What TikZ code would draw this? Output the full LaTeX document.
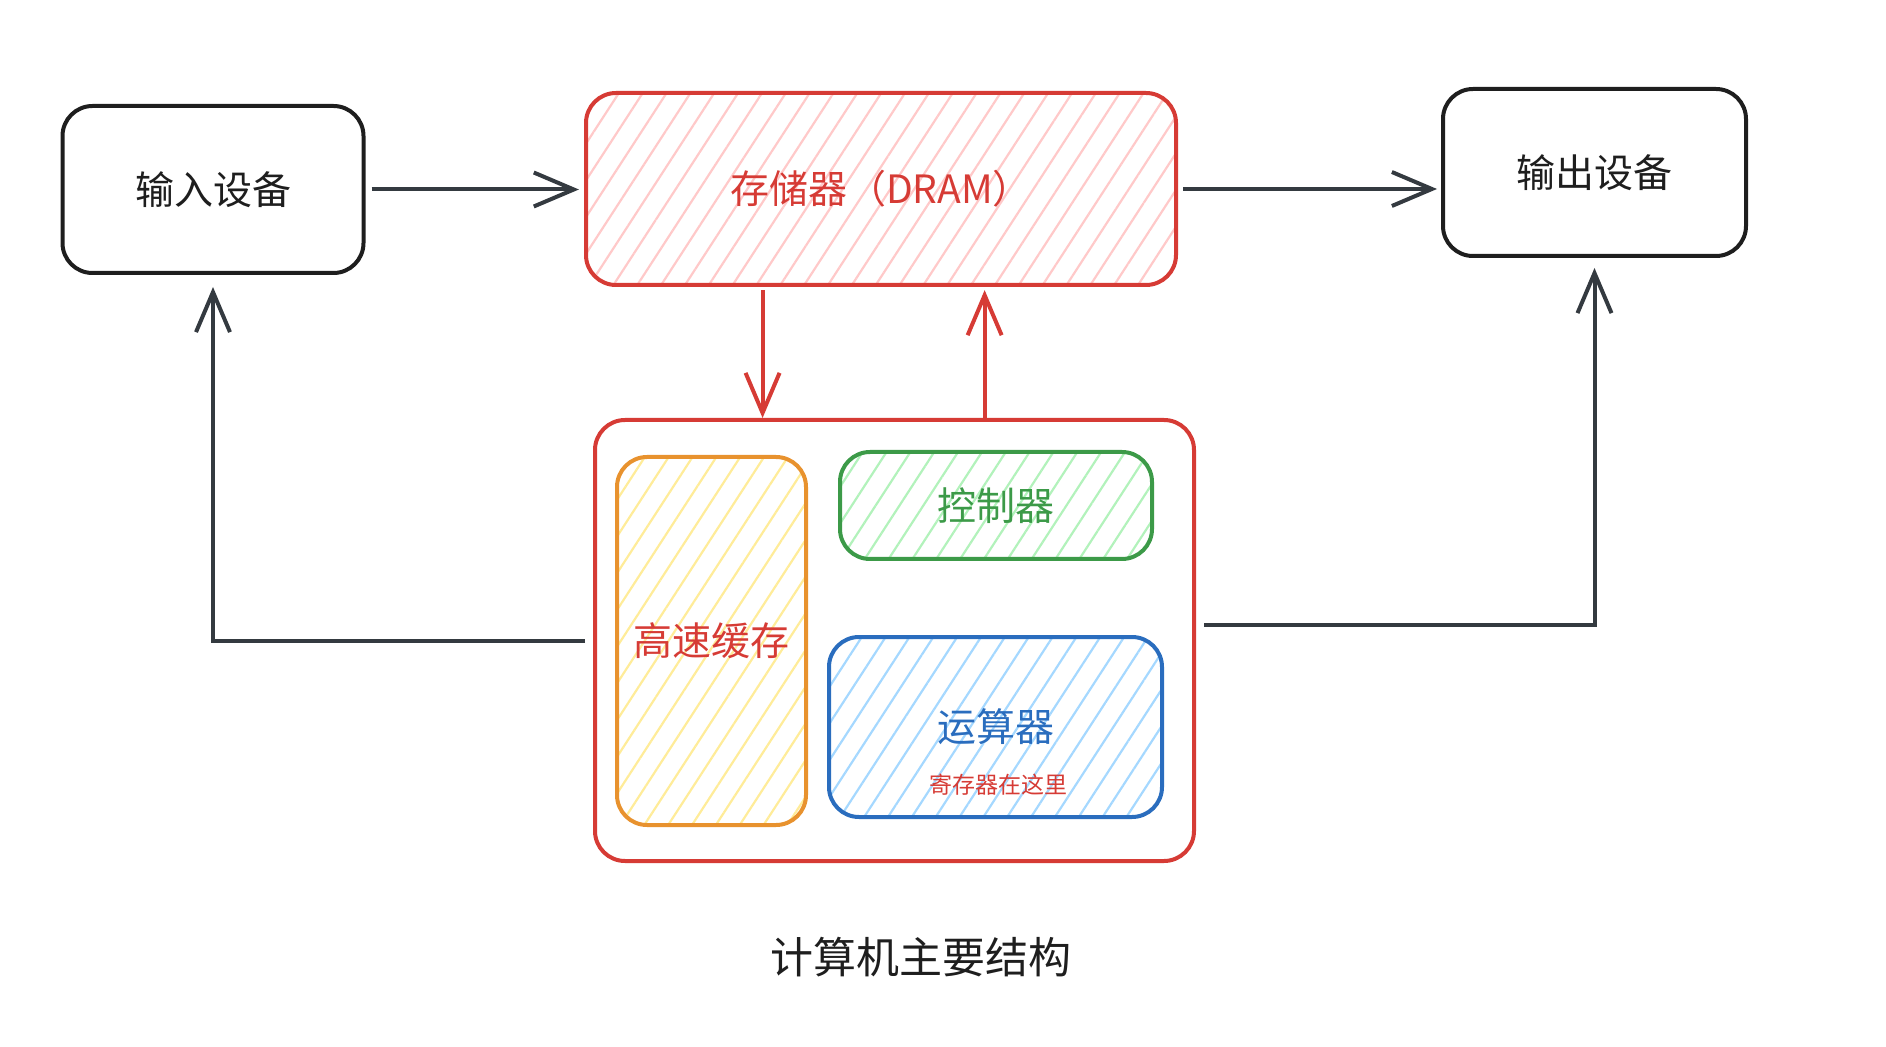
\documentclass[tikz,border=0pt]{standalone}
\usepackage{fontspec}
\setmainfont{Noto Sans CJK SC}
\usepackage{xcolor}
\usetikzlibrary{arrows.meta, positioning, calc, patterns.meta}

\definecolor{inkdark}{HTML}{1E1E1E}
\definecolor{arrowdark}{HTML}{343A40}
\definecolor{memred}{HTML}{D63B35}
\definecolor{memfill}{HTML}{FFC9C9}
\definecolor{cacheorange}{HTML}{E8922E}
\definecolor{cachefill}{HTML}{FFEC99}
\definecolor{ctrlgreen}{HTML}{3C9A48}
\definecolor{ctrlfill}{HTML}{B2F2BB}
\definecolor{alublue}{HTML}{2A6DBE}
\definecolor{alufill}{HTML}{A5D8FF}

\begin{document}
\begin{tikzpicture}[
    x=0.5pt, y=0.5pt,
    box/.style={
        rectangle,
        draw,
        line width=2pt,
        rounded corners=15pt,
        align=center,
        inner sep=0pt,
        font=\fontsize{19.5}{23}\selectfont
    },
    hatched/.style={
        pattern={Lines[angle=57, distance=10pt, line width=1.1pt]},
        pattern color=#1
    },
    arrow/.style={-{Straight Barb[length=20pt, width=17pt]}, line width=2pt, color=arrowdark},
    memarrow/.style={arrow, color=memred},
    node distance=0.35cm
]
\useasboundingbox (0,0) rectangle (1886,1046);

% top row
\node[box, draw=inkdark, text=inkdark, minimum width=150.5pt, minimum height=83.5pt] (input) at (213,856.5) {输入设备};
\node[box, draw=memred, text=memred, hatched=memfill, minimum width=295pt, minimum height=96pt] (dram) at (881,857) {存储器（DRAM）};
\node[box, draw=inkdark, text=inkdark, minimum width=151.5pt, minimum height=83.5pt] (output) at (1594.5,873.5) {输出设备};

% cpu
\node[box, draw=memred, minimum width=299.5pt, minimum height=220.5pt] (cpu) at (894.5,405.5) {};
\node[box, draw=cacheorange, text=memred, hatched=cachefill, minimum width=94.5pt, minimum height=184pt] (cache) at (711.5,405) {高速缓存};
\node[box, draw=ctrlgreen, text=ctrlgreen, hatched=ctrlfill, minimum width=156pt, minimum height=53.5pt] (ctrl) at (996,540.5) {控制器};
\node[box, draw=alublue, text=alublue, hatched=alufill, minimum width=166.5pt, minimum height=90pt] (alu) at (995.5,319) {运算器};
\node[text=memred, font=\fontsize{11.5}{14}\selectfont] (regnote) at (998,261) {寄存器在这里};

\node[text=inkdark, font=\fontsize{21.5}{26}\selectfont] (title) at (921,89) {计算机主要结构};

\coordinate (memout) at ($(dram.south west)!0.30!(dram.south east)$);
\coordinate (memin) at ($(dram.south west)!0.675!(dram.south east)$);

\draw[arrow, shorten <=3pt, shorten >=3pt] (input.east) -- (input.east -| dram.west);
\draw[arrow, shorten <=3pt, shorten >=2pt] (dram.east) -- (dram.east -| output.west);
\draw[memarrow, shorten <=2pt] (memout) -- (memout |- cpu.north);
\draw[memarrow, shorten >=2pt] (memin |- cpu.north) -- (memin);
\draw[arrow, shorten <=4pt, shorten >=6pt] (cpu.west) -| (input.south);
\draw[arrow, shorten <=4pt, shorten >=5pt] ([yshift=8pt]cpu.east) -| (output.south);

\end{tikzpicture}
\end{document}
